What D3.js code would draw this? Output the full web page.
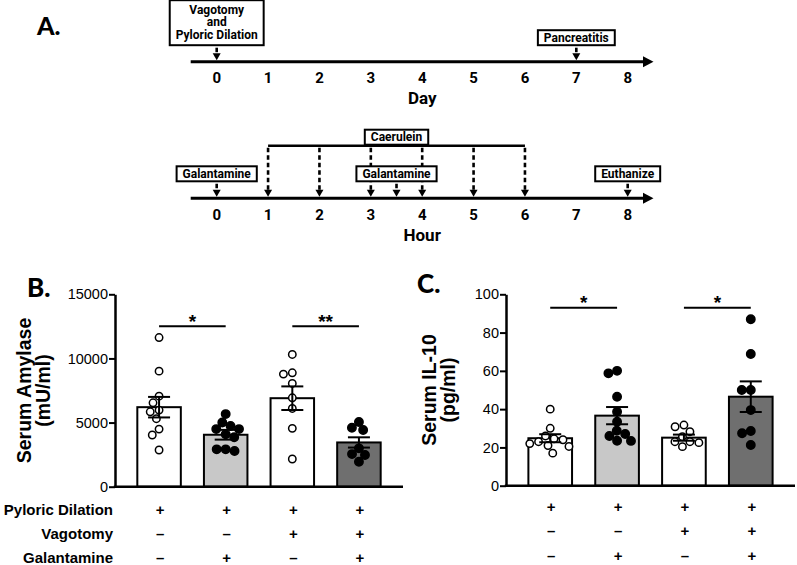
<!DOCTYPE html>
<html>
<head>
<meta charset="utf-8">
<script src="https://cdn.jsdelivr.net/npm/d3@7"></script>
<style>
body { margin: 0; background: #fff; }
svg text { font-family: "Liberation Sans", Arial, sans-serif; fill: #000; }
.tl text { font-family: Roboto, "Liberation Sans", sans-serif; font-weight: 700; }
.letter { font-family: Lato, "Open Sans", sans-serif !important; font-weight: 900; }
</style>
</head>
<body>
<div id="chart"></div>
<script>
var width = 797, height = 565;

// ---- panel A: timelines
var dayTicks = [0, 1, 2, 3, 4, 5, 6, 7, 8];
var hourTicks = [0, 1, 2, 3, 4, 5, 6, 7, 8];
var dayEvents = [
  {at: 0, lines: ["Vagotomy", "and", "Pyloric Dilation"]},
  {at: 7, lines: ["Pancreatitis"]}
];
var hourEvents = [
  {at: 0, lines: ["Galantamine"]},
  {at: 3.5, lines: ["Galantamine"]},
  {at: 8, lines: ["Euthanize"]}
];
var caeruleinHours = [1, 2, 3, 4, 5, 6];

// ---- panels B and C: groups
var groups = ["PD", "PD+Gal", "PD+Vag", "PD+Vag+Gal"];
var rowLabels = ["Pyloric Dilation", "Vagotomy", "Galantamine"];
var pyloric = ["+", "+", "+", "+"];
var vagotomy = ["\u2013", "\u2013", "+", "+"];
var galantamine = ["\u2013", "+", "\u2013", "+"];

var amylaseMean = [6200, 4050, 6900, 3450];
var amylaseSem = [800, 380, 920, 400];
var amylasePts = [
  [11630, 9010, 7060, 6540, 5970, 5840, 5300, 4490, 4030, 2860],
  [5660, 4490, 4490, 4730, 5010, 3850, 4080, 2780, 2910, 2910],
  [10310, 8880, 8780, 8050, 6930, 6100, 4550, 2160],
  [5040, 4600, 4420, 2990, 2540, 2470, 1950]
];
var amylaseTicks = [0, 5000, 10000, 15000];
var amylaseSig = [{from: 0, to: 1, y: 12500, label: "*"}, {from: 2, to: 3, y: 12500, label: "**"}];

var il10Mean = [24.8, 36.6, 25.1, 46.5];
var il10Sem = [2.1, 4.5, 1.6, 8];
var il10Pts = [
  [40, 30, 26, 24.5, 24, 23, 22, 21, 20.5, 17],
  [60, 58.7, 46.5, 38.7, 33.4, 28.7, 27, 26, 23.5, 23.4],
  [31.7, 30.8, 28.2, 25.6, 23, 23, 22.5, 20.4],
  [87, 68.8, 50, 50, 39.5, 28.6, 27.4, 21.3]
];
var il10Ticks = [0, 20, 40, 60, 80, 100];
var il10Sig = [{from: 0, to: 1, y: 93, label: "*"}, {from: 2, to: 3, y: 93, label: "*"}];

var barFill = ["#ffffff", "#c8c8c8", "#ffffff", "#6f6f6f"];
var openDots = [true, false, true, false];

var svg = d3.select("#chart").append("svg")
  .attr("width", width)
  .attr("height", height)
  .style("display", "block");

// panel letters
svg.append("text").attr("class", "letter").attr("x", 37).attr("y", 35).style("font-size", "25px").text("A.");
svg.append("text").attr("class", "letter").attr("x", 27).attr("y", 297).style("font-size", "26px").text("B.");
svg.append("text").attr("class", "letter").attr("x", 417).attr("y", 293).style("font-size", "26px").text("C.");

var xT = d3.scaleLinear().domain([0, 8]).range([216.7, 627.7]);

function arrowDown(g, x, y1, y2) {
  g.append("line")
    .attr("x1", x).attr("x2", x)
    .attr("y1", y1).attr("y2", y2 - 5)
    .attr("stroke", "#000").attr("stroke-width", 2.6)
    .attr("stroke-dasharray", "4.5,3");
  g.append("path")
    .attr("d", "M" + (x - 4) + "," + (y2 - 7) + "L" + (x + 4) + "," + (y2 - 7) + "L" + x + "," + y2 + "Z")
    .attr("fill", "#000");
}

function eventBox(g, cx, bottom, lines) {
  var h = 15 + (lines.length - 1) * 15;
  var top = bottom - h;
  var box = g.append("rect").attr("fill", "#fff").attr("stroke", "#000").attr("stroke-width", 2);
  var t = g.append("text").attr("text-anchor", "middle").style("font-size", "12px");
  var first = top + 11.5 + (lines.length - 1);
  lines.forEach(function(s, i) {
    t.append("tspan").attr("x", cx).attr("y", first + i * 12.5).text(s);
  });
  var w = d3.max(t.selectAll("tspan").nodes(), function(n) { return n.getComputedTextLength(); }) + 12;
  box.attr("x", cx - w / 2).attr("y", top).attr("width", w).attr("height", h);
}

function timeline(lineY, ticks, title, titleY) {
  var g = svg.append("g").attr("class", "tl");
  g.append("line")
    .attr("x1", 190.7).attr("x2", 645)
    .attr("y1", lineY).attr("y2", lineY)
    .attr("stroke", "#000").attr("stroke-width", 3);
  g.append("path")
    .attr("d", "M643," + (lineY - 5.5) + "L653.5," + lineY + "L643," + (lineY + 5.5) + "Z")
    .attr("fill", "#000");
  g.selectAll("text.tick").data(ticks).join("text")
    .attr("class", "tick")
    .attr("x", function(d) { return xT(d); })
    .attr("y", lineY + 21.3)
    .attr("text-anchor", "middle")
    .style("font-size", "15px")
    .text(function(d) { return d; });
  g.append("text")
    .attr("x", xT(4))
    .attr("y", titleY)
    .attr("text-anchor", "middle")
    .style("font-size", "17px")
    .text(title);
  return g;
}

// day timeline
var dayY = 61.7;
var gDay = timeline(dayY, dayTicks, "Day", 103.5);
dayEvents.forEach(function(e) {
  eventBox(gDay, xT(e.at), dayY - 16.5, e.lines);
  arrowDown(gDay, xT(e.at), dayY - 14, dayY - 1.5);
});

// hour timeline
var hourY = 198.3;
var bracketY = 145.7;
var gHour = timeline(hourY, hourTicks, "Hour", 240.5);
gHour.append("line")
  .attr("x1", xT(d3.min(caeruleinHours))).attr("x2", xT(d3.max(caeruleinHours)))
  .attr("y1", bracketY).attr("y2", bracketY)
  .attr("stroke", "#000").attr("stroke-width", 2.5);
caeruleinHours.forEach(function(h) {
  arrowDown(gHour, xT(h), bracketY + 2, hourY - 1.5);
});
eventBox(gHour, xT(d3.mean([caeruleinHours[2], caeruleinHours[3]])), bracketY - 1, ["Caerulein"]);
hourEvents.forEach(function(e) {
  eventBox(gHour, xT(e.at), hourY - 17, e.lines);
  arrowDown(gHour, xT(e.at), hourY - 14.5, hourY - 1.5);
});

// simple beeswarm: offsets so dots do not pile up
function swarm(vals, y, dia) {
  var pts = vals.map(function(v) { return {v: v, y: y(v), dx: 0}; })
    .sort(function(a, b) { return a.y - b.y; });
  var placed = [];
  pts.forEach(function(p) {
    var cands = [0];
    placed.forEach(function(q) {
      var dy = p.y - q.y;
      if (Math.abs(dy) < dia) {
        var dx = Math.sqrt(dia * dia - dy * dy);
        cands.push(q.dx - dx, q.dx + dx);
      }
    });
    cands.sort(function(a, b) { return Math.abs(a) - Math.abs(b); });
    for (var k = 0; k < cands.length; k++) {
      var c = cands[k];
      var ok = placed.every(function(q) {
        return (q.dx - c) * (q.dx - c) + (q.y - p.y) * (q.y - p.y) >= dia * dia - 0.01;
      });
      if (ok) { p.dx = c; break; }
    }
    placed.push(p);
  });
  return placed;
}

function drawPanel(o) {
  var x = d3.scaleBand().domain(groups).range(o.xRange).paddingInner(0.347).paddingOuter(0.335);
  var y = d3.scaleLinear().domain([0, d3.max(o.ticks)]).range(o.yRange);
  var g = svg.append("g");
  var bw = x.bandwidth();

  g.selectAll("rect.bar").data(groups).join("rect")
    .attr("class", "bar")
    .attr("x", function(d) { return x(d); })
    .attr("y", function(d, i) { return y(o.mean[i]); })
    .attr("width", bw)
    .attr("height", function(d, i) { return y(0) - y(o.mean[i]); })
    .attr("fill", function(d, i) { return barFill[i]; })
    .attr("stroke", "#000")
    .attr("stroke-width", 2);

  groups.forEach(function(grp, i) {
    var cx = x(grp) + bw / 2;
    var pts = swarm(o.pts[i], y, 9);
    g.selectAll("circle.g" + i).data(pts).join("circle")
      .attr("class", "g" + i)
      .attr("cx", function(d) { return cx + d.dx; })
      .attr("cy", function(d) { return d.y; })
      .attr("r", openDots[i] ? 3.7 : 4.2)
      .attr("fill", openDots[i] ? "#fff" : "#000")
      .attr("stroke", "#000")
      .attr("stroke-width", 1.5);

    // mean +/- SEM
    var hi = y(o.mean[i] + o.sem[i]), lo = y(o.mean[i] - o.sem[i]);
    g.append("line").attr("x1", cx).attr("x2", cx).attr("y1", hi).attr("y2", lo)
      .attr("stroke", "#000").attr("stroke-width", 2);
    [hi, lo].forEach(function(yy) {
      g.append("line").attr("x1", cx - 11).attr("x2", cx + 11).attr("y1", yy).attr("y2", yy)
        .attr("stroke", "#000").attr("stroke-width", 2);
    });
  });

  // significance
  o.sig.forEach(function(s) {
    var x1 = x(groups[s.from]) + bw / 2, x2 = x(groups[s.to]) + bw / 2;
    g.append("line").attr("x1", x1).attr("x2", x2).attr("y1", y(s.y)).attr("y2", y(s.y))
      .attr("stroke", "#000").attr("stroke-width", 2);
    g.append("text").attr("x", (x1 + x2) / 2).attr("y", y(s.y) + 1.3)
      .attr("text-anchor", "middle")
      .style("font-size", "19px").style("font-weight", "700")
      .text(s.label);
  });

  // axes
  var ax = g.append("g")
    .attr("transform", "translate(" + o.xRange[0] + ",0)")
    .call(d3.axisLeft(y).tickValues(o.ticks).tickSize(6).tickSizeOuter(0).tickPadding(1).tickFormat(d3.format("d")));
  ax.select(".domain").attr("stroke-width", 2.5);
  ax.selectAll(".tick line").attr("stroke-width", 2);
  ax.selectAll(".tick text").style("font-size", "14.5px").style("font-family", "'Liberation Sans', Arial, sans-serif");

  g.append("line")
    .attr("x1", o.xRange[0] - 1.2).attr("x2", o.xRange[1])
    .attr("y1", y(0)).attr("y2", y(0))
    .attr("stroke", "#000").attr("stroke-width", 2.5);

  // y label
  var midY = (o.yRange[0] + o.yRange[1]) / 2;
  o.label.forEach(function(s, i) {
    g.append("text")
      .attr("transform", "translate(" + o.labelX[i] + "," + midY + ") rotate(-90)")
      .attr("text-anchor", "middle")
      .style("font-size", "19.5px").style("font-weight", "700")
      .text(s);
  });

  // treatment table
  [pyloric, vagotomy, galantamine].forEach(function(row, r) {
    g.selectAll("text.sign" + r).data(row).join("text")
      .attr("class", "sign" + r)
      .attr("x", function(d, i) { return x(groups[i]) + bw / 2 + 1; })
      .attr("y", o.rowY[r])
      .attr("text-anchor", "middle")
      .style("font-size", "15px").style("font-weight", "700")
      .text(function(d) { return d; });
  });
}

var rowY = [514.5, 538.5, 563];

drawPanel({
  xRange: [115, 403], yRange: [486.7, 294.3],
  ticks: amylaseTicks, mean: amylaseMean, sem: amylaseSem, pts: amylasePts, sig: amylaseSig,
  label: ["Serum Amylase", "(mU/ml)"], labelX: [31, 50], rowY: rowY
});
drawPanel({
  xRange: [506, 795], yRange: [485.7, 294.3],
  ticks: il10Ticks, mean: il10Mean, sem: il10Sem, pts: il10Pts, sig: il10Sig,
  label: ["Serum IL-10", "(pg/ml)"], labelX: [436, 455], rowY: [512, 536, 561]
});

// row labels for the treatment table
svg.selectAll("text.rowlab").data(rowLabels).join("text")
  .attr("class", "rowlab")
  .attr("x", 113)
  .attr("y", function(d, i) { return rowY[i]; })
  .attr("text-anchor", "end")
  .style("font-size", "15px").style("font-weight", "700")
  .text(function(d) { return d; });
</script>
</body>
</html>
